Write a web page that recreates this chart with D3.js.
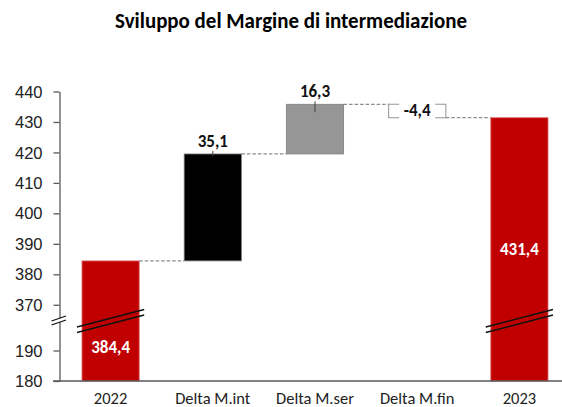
<!DOCTYPE html>
<html lang="it">
<head>
<meta charset="UTF-8">
<title>Sviluppo del Margine di intermediazione</title>
<style>
  body { margin: 0; background: #fff; }
  svg { display: block; font-family: Carlito, Lato, "Open Sans", sans-serif; }
</style>
</head>
<body>
<div class="chart"></div>
<script src="https://d3js.org/d3.v7.min.js"></script>
<script>
const categories = ["2022", "Delta M.int", "Delta M.ser", "Delta M.fin", "2023"];
const values = [384.4, 35.1, 16.3, -4.4, 431.4];
const kinds = ["total", "delta", "delta", "delta", "total"];
const labels = ["384,4", "35,1", "16,3", "-4,4", "431,4"];
const yTicks = [180, 190, 370, 380, 390, 400, 410, 420, 430, 440];

const width = 562, height = 407;
const colors = { total: "#c00000", pos1: "#000000", pos2: "#969696" };

const svg = d3.select(".chart").append("svg")
  .attr("width", width).attr("height", height);

// broken scale: 180-200 below the break, 365-440 above
const y = d3.scaleLinear()
  .domain([180, 200, 365, 440])
  .range([381, 320, 320, 91.5]);

const x = d3.scaleBand()
  .domain(categories)
  .range([59.5, 570.5])
  .paddingInner(0.44)
  .paddingOuter(0.22);

// compute waterfall steps
let run = 0;
const steps = categories.map((c, i) => {
  let start, end;
  if (kinds[i] === "total") { start = 180; end = values[i]; run = values[i]; }
  else { start = run; end = run + values[i]; run = end; }
  return { cat: c, start, end, value: values[i], kind: kinds[i], label: labels[i], i };
});

svg.append("text")
  .attr("x", 291).attr("y", 28)
  .attr("text-anchor", "middle")
  .attr("font-size", 21.5).attr("font-weight", "bold")
  .attr("textLength", 352).attr("lengthAdjust", "spacingAndGlyphs")
  .text("Sviluppo del Margine di intermediazione");

// connectors
const level = steps.slice(0, -1).map((s, i) => ({ a: s, b: steps[i + 1], v: s.end }));
svg.append("g").selectAll("line")
  .data(level)
  .join("line")
  .attr("x1", d => x(d.a.cat) + x.bandwidth())
  .attr("x2", d => x(d.b.cat))
  .attr("y1", d => y(d.v)).attr("y2", d => y(d.v))
  .attr("stroke", "#8c8c8c").attr("stroke-width", 1.2)
  .attr("stroke-dasharray", "3.5,2");

// bars
const fillOf = d => d.kind === "total" ? colors.total
  : d.value < 0 ? "#ffffff" : (d.i === 1 ? colors.pos1 : colors.pos2);
svg.append("g").selectAll("rect")
  .data(steps)
  .join("rect")
  .attr("x", d => x(d.cat))
  .attr("width", x.bandwidth())
  .attr("y", d => y(Math.max(d.start, d.end)))
  .attr("height", d => Math.abs(y(d.start) - y(d.end)))
  .attr("fill", fillOf)
  .attr("stroke", d => d.kind === "total" ? "#e07070" : d.value < 0 ? "#a6a6a6" : "#7f7f7f")
  .attr("stroke-width", d => d.value < 0 ? 1.2 : 0.8);

// small leader ticks on positive deltas
const deltas = steps.filter(d => d.kind === "delta" && d.value > 0);
svg.append("g").selectAll("line")
  .data(deltas)
  .join("line")
  .attr("x1", d => x(d.cat) + x.bandwidth() / 2)
  .attr("x2", d => x(d.cat) + x.bandwidth() / 2)
  .attr("y1", d => y(d.end) - 3)
  .attr("y2", d => y(d.end) + (d.i === 2 ? 8 : 2))
  .attr("stroke", "#404040").attr("stroke-width", 1);

// y axis
const yAxis = d3.axisLeft(y).tickValues(yTicks).tickSize(6).tickSizeOuter(0).tickFormat(d3.format("d"));
const yg = svg.append("g").attr("transform", "translate(59.5,0)").call(yAxis);
yg.select(".domain").attr("stroke", "#595959").attr("stroke-width", 1.3);
yg.selectAll(".tick line").attr("stroke", "#595959").attr("stroke-width", 1.3);
yg.selectAll(".tick text").attr("font-size", 16.5).attr("fill", "#222").attr("x", -17).attr("dy", "0.34em");

// x axis
svg.append("line")
  .attr("x1", 53).attr("x2", width).attr("y1", y(180)).attr("y2", y(180))
  .attr("stroke", "#595959").attr("stroke-width", 1.3);
svg.append("g").selectAll("text")
  .data(categories)
  .join("text")
  .attr("x", d => x(d) + x.bandwidth() / 2)
  .attr("y", 404)
  .attr("text-anchor", "middle")
  .attr("font-size", 16.5).attr("fill", "#222")
  .text(d => d);

// break marks on the total bars
const totals = steps.filter(d => d.kind === "total");
const brk = svg.append("g");
totals.forEach(d => {
  const x0 = x(d.cat) - 5, x1 = x(d.cat) + x.bandwidth() + 5;
  brk.append("line").attr("x1", x0).attr("y1", 327).attr("x2", x1).attr("y2", 309.5)
    .attr("stroke", "#111").attr("stroke-width", 1.5);
  brk.append("line").attr("x1", x0).attr("y1", 332.5).attr("x2", x1).attr("y2", 315)
    .attr("stroke", "#111").attr("stroke-width", 1.5);
});
// break on the axis
brk.append("path").attr("d", "M51.5,321 L66,316 L66,320 L51.5,325 Z").attr("fill", "#fff");
brk.append("line").attr("x1", 51.5).attr("y1", 321).attr("x2", 66).attr("y2", 316)
  .attr("stroke", "#111").attr("stroke-width", 1.3);
brk.append("line").attr("x1", 51.5).attr("y1", 325).attr("x2", 66).attr("y2", 320)
  .attr("stroke", "#111").attr("stroke-width", 1.3);

// value labels
const lab = svg.append("g").attr("font-weight", "bold").attr("font-size", 17).attr("text-anchor", "middle");
steps.forEach(d => {
  const cx = x(d.cat) + x.bandwidth() / 2;
  if (d.kind === "total") {
    const ly = d.i === 0 ? 353 : 255;
    lab.append("text").attr("x", cx).attr("y", ly).attr("fill", "#fff").text(d.label);
  } else if (d.value > 0) {
    lab.append("text").attr("x", cx).attr("y", y(d.end) - 7).attr("fill", "#111").text(d.label);
  } else {
    const my = (y(d.start) + y(d.end)) / 2;
    lab.append("rect").attr("x", cx - 18).attr("y", my - 10).attr("width", 36).attr("height", 18).attr("fill", "#fff");
    lab.append("text").attr("x", cx).attr("y", my + 5.5).attr("fill", "#111").text(d.label);
  }
});
</script>
</body>
</html>
